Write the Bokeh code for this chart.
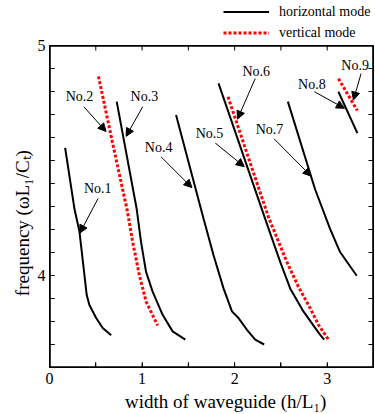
from bokeh.plotting import figure
from bokeh.layouts import column
from bokeh.models import (ColumnDataSource, Range1d, FixedTicker, LabelSet, Arrow,
                          NormalHead, Legend, LegendItem)
from bokeh.core.properties import value
from bokeh.embed import file_html
from bokeh.resources import INLINE

# ---------------- data ----------------
# horizontal modes (black solid)
no1_x = [0.169, 0.270, 0.324, 0.378, 0.402, 0.431, 0.504, 0.575, 0.666]
no1_y = [4.555, 4.289, 4.190, 4.000, 3.915, 3.872, 3.815, 3.772, 3.740]
no3_x = [0.726, 0.942, 0.989, 1.043, 1.114, 1.222, 1.330, 1.467]
no3_y = [4.756, 4.289, 4.145, 4.016, 3.930, 3.829, 3.757, 3.721]
no4_x = [1.367, 1.665, 1.772, 1.880, 1.971, 2.042, 2.133, 2.222, 2.319]
no4_y = [4.698, 4.246, 4.088, 3.944, 3.844, 3.815, 3.764, 3.721, 3.700]
no5_x = [1.826, 2.330, 2.492, 2.600, 2.743, 2.916, 2.967]
no5_y = [4.835, 4.246, 4.059, 3.944, 3.844, 3.746, 3.721]
no7_x = [2.575, 2.869, 3.031, 3.139, 3.319]
no7_y = [4.756, 4.375, 4.203, 4.102, 3.999]
no8_x = [3.121, 3.326]
no8_y = [4.799, 4.619]
# vertical modes (red dotted)
no2_x = [0.529, 0.690, 0.841, 0.899, 0.971, 1.043, 1.168]
no2_y = [4.866, 4.560, 4.280, 4.145, 4.001, 3.887, 3.783]
no6_x = [1.928, 2.366, 2.564, 2.689, 2.816, 2.905, 3.013]
no6_y = [4.777, 4.253, 4.059, 3.951, 3.858, 3.786, 3.721]
no9_x = [3.121, 3.326]
no9_y = [4.856, 4.717]

# annotations
note_text = ["No.1", "No.2", "No.3", "No.4", "No.5", "No.6", "No.7", "No.8", "No.9"]
note_x = [0.521, 0.324, 1.025, 1.179, 1.729, 2.233, 2.377, 2.834, 3.301]
note_y = [4.378, 4.777, 4.777, 4.555, 4.616, 4.885, 4.634, 4.831, 4.914]
arrow_x0 = [0.525, 0.370, 1.007, 1.205, 1.791, 2.222, 2.427, 2.862, 3.366]
arrow_y0 = [4.335, 4.734, 4.734, 4.516, 4.576, 4.856, 4.594, 4.799, 4.878]
arrow_x1 = [0.327, 0.611, 0.827, 1.539, 2.104, 2.031, 2.826, 3.186, 3.283]
arrow_y1 = [4.184, 4.626, 4.605, 4.382, 4.473, 4.680, 4.432, 4.727, 4.763]

# ticks
x_major_ticks = [0, 1, 2, 3]
x_minor_ticks = [0.5, 1.5, 2.5, 3.5]
y_major_ticks = [4, 5]
y_minor_ticks = [3.6, 3.7, 3.8, 3.9, 4.1, 4.2, 4.3, 4.4, 4.5, 4.6, 4.7, 4.8, 4.9]

legend_labels = ["horizontal mode", "vertical mode"]
x_title = "width of waveguide (h/L\u2081)"
y_title = "frequency (\u03c9L\u2081/C\u209c)"

FONT = "Liberation Serif"
NBSP = "\u00a0"

black_kw = dict(line_color="black", line_width=2)
red_kw = dict(line_color="red", line_width=3, line_dash="3 2")

X0, X1 = 0.0, 3.5
Y0, Y1 = 3.6, 5.0
FRAME_W, FRAME_H = 324, 325          # frame size in pixels
PX_X = (X1 - X0) / FRAME_W           # one pixel in data units
PX_Y = (Y1 - Y0) / FRAME_H
TICK_PX = 5
RULE_PX = 1.3

# ---------------- legend strip (sits above the chart) ----------------
leg = figure(width=375, height=38, output_backend="svg", toolbar_location=None,
             x_range=Range1d(10, 11), y_range=Range1d(10, 11),
             x_axis_location=None, y_axis_location=None, min_border=0)
leg.xgrid.visible = False
leg.ygrid.visible = False
leg.outline_line_color = None
leg.background_fill_alpha = 0
leg.border_fill_alpha = 0
# same styles as the chart's series; their data lie outside this strip's ranges
lr1 = leg.line(no1_x, no1_y, **black_kw)
lr2 = leg.line(no2_x, no2_y, **red_kw)
legend = Legend(items=[LegendItem(label=legend_labels[0], renderers=[lr1]),
                       LegendItem(label=legend_labels[1], renderers=[lr2])],
                location=(174, -5), orientation="vertical",
                glyph_width=46, glyph_height=21, label_height=21, spacing=0,
                padding=0, margin=0, label_standoff=10,
                label_text_font=FONT, label_text_font_size="14px",
                label_text_color="black", label_text_baseline="middle",
                border_line_alpha=0, background_fill_alpha=0)
leg.add_layout(legend)

# ---------------- main chart ----------------
p = figure(width=375, height=376, output_backend="svg", toolbar_location=None,
           x_range=Range1d(X0, X1), y_range=Range1d(Y0, Y1),
           min_border_left=49, min_border_right=2, min_border_top=7, min_border_bottom=44)
p.xgrid.visible = False
p.ygrid.visible = False
p.outline_line_color = "black"
p.outline_line_width = 1
p.background_fill_alpha = 0
p.border_fill_alpha = 0


def style_axis(ax, standoff):
    ax.axis_line_color = "black"
    ax.major_tick_line_color = "black"
    ax.minor_tick_line_color = "black"
    ax.major_tick_in = TICK_PX
    ax.major_tick_out = 0
    ax.minor_tick_in = TICK_PX
    ax.minor_tick_out = 0
    ax.major_label_text_font = FONT
    ax.major_label_text_font_size = "16px"
    ax.major_label_text_color = "black"
    ax.major_label_standoff = standoff
    ax.axis_label_text_font = FONT
    ax.axis_label_text_font_style = "normal"
    ax.axis_label_text_color = "black"
    ax.axis_label_text_font_size = "19px"


xa = p.xaxis[0]
xa.ticker = FixedTicker(ticks=x_major_ticks, minor_ticks=x_minor_ticks)
style_axis(xa, 5)
xa.axis_label = NBSP * 6 + x_title
xa.axis_label_standoff = 4

ya = p.yaxis[0]
ya.ticker = FixedTicker(ticks=y_major_ticks, minor_ticks=y_minor_ticks)
style_axis(ya, 4)
ya.axis_label = y_title + NBSP * 7
ya.axis_label_standoff = 2

# frame rules and inward tick marks on all four sides, drawn as thin filled bars
bar_kw = dict(fill_color="black", line_color=None)
p.quad(left=[X0, X1 - RULE_PX * PX_X, X0, X0],
       right=[X0 + RULE_PX * PX_X, X1, X1, X1],
       bottom=[Y0, Y0, Y0, Y1 - RULE_PX * PX_Y],
       top=[Y1, Y1, Y0 + RULE_PX * PX_Y, Y1], **bar_kw)
xt = x_major_ticks + x_minor_ticks
yt = y_major_ticks + y_minor_ticks
p.quad(left=[t - 0.5 * PX_X for t in xt], right=[t + 0.5 * PX_X for t in xt],
       bottom=[Y0] * len(xt), top=[Y0 + TICK_PX * PX_Y] * len(xt), **bar_kw)
p.quad(left=[t - 0.5 * PX_X for t in xt], right=[t + 0.5 * PX_X for t in xt],
       bottom=[Y1 - TICK_PX * PX_Y] * len(xt), top=[Y1] * len(xt), **bar_kw)
p.quad(left=[X0] * len(yt), right=[X0 + TICK_PX * PX_X] * len(yt),
       bottom=[t - 0.5 * PX_Y for t in yt], top=[t + 0.5 * PX_Y for t in yt], **bar_kw)
p.quad(left=[X1 - TICK_PX * PX_X] * len(yt), right=[X1] * len(yt),
       bottom=[t - 0.5 * PX_Y for t in yt], top=[t + 0.5 * PX_Y for t in yt], **bar_kw)

# ---------------- curves ----------------
p.line(no1_x, no1_y, **black_kw)
p.line(no3_x, no3_y, **black_kw)
p.line(no4_x, no4_y, **black_kw)
p.line(no5_x, no5_y, **black_kw)
p.line(no7_x, no7_y, **black_kw)
p.line(no8_x, no8_y, **black_kw)
p.line(no2_x, no2_y, **red_kw)
p.line(no6_x, no6_y, **red_kw)
p.line(no9_x, no9_y, **red_kw)

# ---------------- annotations ----------------
arrow_src = ColumnDataSource(dict(x0=arrow_x0, y0=arrow_y0, x1=arrow_x1, y1=arrow_y1))
p.add_layout(Arrow(end=NormalHead(size=8, fill_color="black", line_color="black", line_width=1),
                   x_start="x0", y_start="y0", x_end="x1", y_end="y1",
                   source=arrow_src, line_color="black", line_width=1))

note_src = ColumnDataSource(dict(x=note_x, y=note_y, t=note_text))
p.add_layout(LabelSet(x="x", y="y", text="t", source=note_src,
                      text_align="center", text_baseline="middle",
                      text_font=value(FONT), text_font_size=value("14px"),
                      text_color="black"))

layout = column(leg, p, spacing=0)
open("out.html", "w").write(file_html(layout, INLINE))
